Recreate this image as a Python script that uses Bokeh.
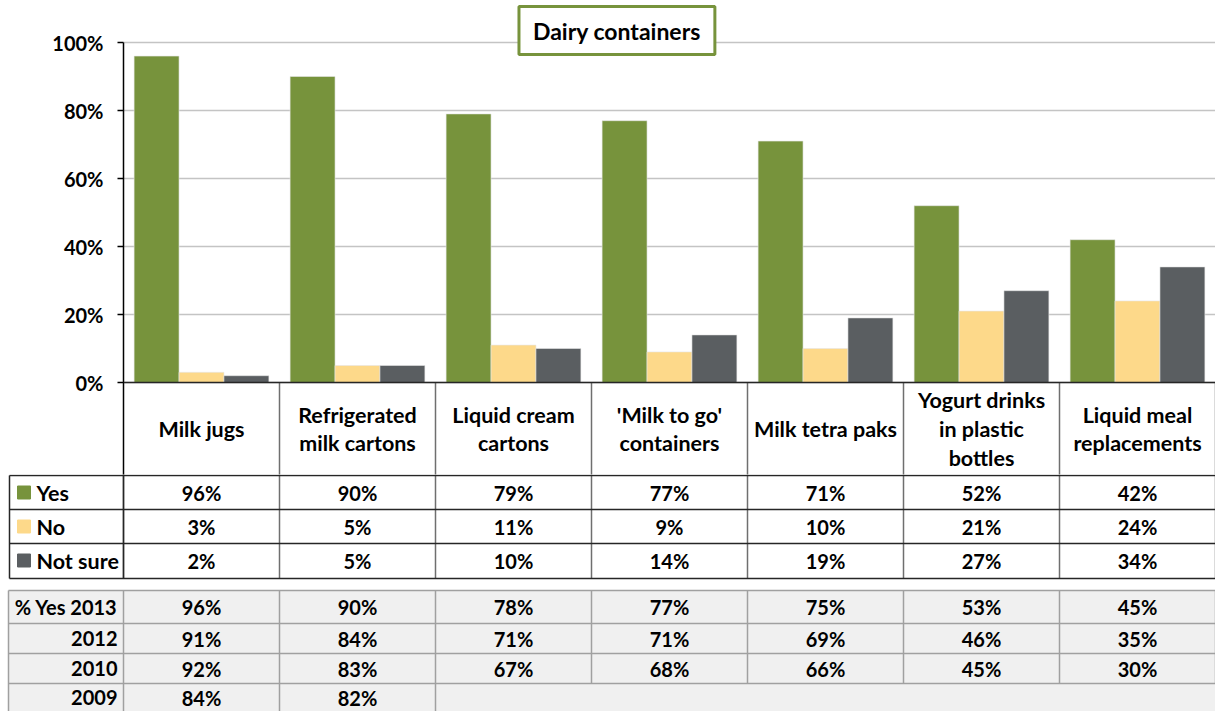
from bokeh.plotting import figure
from bokeh.models import ColumnDataSource, FactorRange, Range1d, FixedTicker, PrintfTickFormatter, Label, Span
from bokeh.transform import dodge
from bokeh.core.properties import value
from bokeh.embed import file_html
from bokeh.resources import INLINE

# ---------------- data ----------------
categories = ["Milk jugs", "Refrigerated milk cartons", "Liquid cream cartons",
              "'Milk to go' containers", "Milk tetra paks",
              "Yogurt drinks in plastic bottles", "Liquid meal replacements"]
category_labels = ["Milk jugs", "Refrigerated\nmilk cartons", "Liquid cream\ncartons",
                   "'Milk to go'\ncontainers", "Milk tetra paks",
                   "Yogurt drinks\nin plastic\nbottles", "Liquid meal\nreplacements"]
series_names = ["Yes", "No", "Not sure"]
yes = [96, 90, 79, 77, 71, 52, 42]
no = [3, 5, 11, 9, 10, 21, 24]
not_sure = [2, 5, 10, 14, 19, 27, 34]

history_labels = ["% Yes 2013", "2012", "2010", "2009"]
yes_2013 = [96, 90, 78, 77, 75, 53, 45]
yes_2012 = [91, 84, 71, 71, 69, 46, 35]
yes_2010 = [92, 83, 67, 68, 66, 45, 30]
yes_2009 = [84, 82, None, None, None, None, None]

y_ticks = [0, 20, 40, 60, 80, 100]
title_text = "Dairy containers"

# ---------------- style ----------------
GREEN = "#77933C"
YELLOW = "#FDD98A"
GRAY = "#5A5E61"
colors = [GREEN, YELLOW, GRAY]
FONT = "Lato"
FS_NUM = "20px"
FS_TXT = "21.5px"
FS_TITLE = "23px"

W = 1215
H_A = 474
H_B = 711 - H_A
L = 123
CW = (W - L) / 7.0
PX_PER_PCT = 3.4
ZERO_PX = 382
HEADER_BOTTOM = 475
N = len(categories)

def py(ref_px):
    """reference pixel row -> percent units of the chart's y scale"""
    return (ZERO_PX - ref_px) / PX_PER_PCT

# ---------------- chart (with the table's header row) ----------------
y_bottom = py(H_A)
p = figure(width=W, height=H_A, x_range=FactorRange(*categories),
           y_range=Range1d(y_bottom, py(0)),
           output_backend="svg", toolbar_location=None, x_axis_location=None,
           min_border=0, min_border_left=L, outline_line_color=None)

src = ColumnDataSource(dict(cat=categories, yes=yes, no=no, ns=not_sure))
bw = 0.288
for off, col, c in zip([-bw, 0, bw], ["yes", "no", "ns"], colors):
    p.vbar(x=dodge("cat", off, range=p.x_range), top=col, width=bw, source=src,
           fill_color=c, line_color="#e6e6e6", line_width=0.6)

# header row cell borders below the 0% line
xs = list(range(1, N + 1))
p.segment(x0=xs, y0=[0] * len(xs), x1=xs, y1=[y_bottom] * len(xs),
          line_color="#6f6f6f", line_width=1.5)
p.add_layout(Span(location=0, dimension="width", line_color="#262626", line_width=1.5))

# header labels
p.text(x=categories, y=[py((ZERO_PX + HEADER_BOTTOM) / 2)] * N,
       text=category_labels, text_align="center", text_baseline="middle",
       line_height=1.1, text_font=value(FONT), text_font_style="bold",
       text_font_size=FS_TXT, text_color="black")

p.xgrid.visible = False
p.ygrid.ticker = FixedTicker(ticks=y_ticks)
p.ygrid.grid_line_color = "#c4c4c4"
p.ygrid.grid_line_width = 1.5
p.yaxis.ticker = FixedTicker(ticks=y_ticks)
p.yaxis.formatter = PrintfTickFormatter(format="%d%%")
p.yaxis.bounds = (y_bottom, 100)
p.yaxis.axis_line_color = "black"
p.yaxis.axis_line_width = 1.5
p.yaxis.major_tick_line_color = "black"
p.yaxis.major_tick_line_width = 1.5
p.yaxis.major_tick_out = 6
p.yaxis.major_tick_in = 0
p.yaxis.minor_tick_line_color = None
p.yaxis.major_label_text_font = FONT
p.yaxis.major_label_text_font_style = "bold"
p.yaxis.major_label_text_font_size = FS_NUM
p.yaxis.major_label_text_color = "black"
p.yaxis.major_label_standoff = 14

p.add_layout(Label(x=3.163, y=py(30), text=title_text, text_align="center",
                   text_baseline="middle", text_font=FONT, text_font_style="bold",
                   text_font_size=FS_TITLE, text_color="black",
                   background_fill_color="white", border_line_color=GREEN,
                   border_line_width=3, padding=(14, 10)))

# ---------------- table body ----------------
def rx(ref_px):
    return (ref_px - L) / CW

TOP = H_A
t = figure(width=W, height=H_B, x_range=Range1d(rx(0), 7),
           y_range=Range1d(TOP + H_B, TOP), output_backend="svg",
           toolbar_location=None, x_axis_location=None, y_axis_location=None,
           min_border=0, outline_line_color=None)
t.grid.visible = False

row_h = 34
rows_top = [HEADER_BOTTOM + i * row_h for i in range(3)]
upper_bottom = HEADER_BOTTOM + 3 * row_h + 1
hist_top = 590
hist_rows = [590, 623, 653, 683, 711]

# second table background
t.quad(left=[rx(8)], right=[7], top=[hist_top], bottom=[TOP + H_B + 10],
       fill_color="#f0f0f0", line_color=None)

# upper table lines
xs = list(range(N + 1))
t.segment(x0=xs, y0=[TOP - 2] * len(xs), x1=xs, y1=[upper_bottom] * len(xs),
          line_color="#6f6f6f", line_width=1.5)
t.segment(x0=[rx(9)], y0=[HEADER_BOTTOM], x1=[rx(9)], y1=[upper_bottom],
          line_color="#262626", line_width=1.5)
hy = [HEADER_BOTTOM, HEADER_BOTTOM + row_h, HEADER_BOTTOM + 2 * row_h, upper_bottom]
t.segment(x0=[rx(9)] * 4, y0=hy, x1=[7] * 4, y1=hy, line_color="#262626", line_width=1.5)
t.segment(x0=[0], y0=[TOP - 2], x1=[0], y1=[upper_bottom], line_color="#262626", line_width=1.5)

# history table lines
t.segment(x0=xs, y0=[hist_top] * len(xs), x1=xs, y1=[hist_rows[3]] * len(xs),
          line_color="#a0a0a0", line_width=1.5)
filled = [i for i, v in enumerate(yes_2009) if v is not None]
xs9 = list(range(len(filled) + 1))
t.segment(x0=xs9, y0=[hist_rows[3]] * len(xs9), x1=xs9, y1=[hist_rows[4]] * len(xs9),
          line_color="#a0a0a0", line_width=1.5)
t.segment(x0=[rx(8)], y0=[hist_top], x1=[rx(8)], y1=[hist_rows[4]],
          line_color="#a0a0a0", line_width=1.5)
t.segment(x0=[rx(8)] * 4, y0=hist_rows[:4], x1=[7] * 4, y1=hist_rows[:4],
          line_color="#a0a0a0", line_width=1.5)

common = dict(text_font=value(FONT), text_font_style="bold",
              text_color="black", text_baseline="middle")

# legend rows
row_c = [r + row_h / 2 for r in rows_top]
t.scatter(x=[rx(23.5)] * 3, y=row_c, marker="square", size=13, color=colors)
t.text(x=[rx(36)] * 3, y=row_c, text=series_names, text_align="left",
       text_font_size=FS_TXT, **common)

for vals, yc in zip([yes, no, not_sure], row_c):
    t.text(x=[i + 0.5 for i in range(N)], y=[yc] * N, text=[f"{v}%" for v in vals],
           text_align="center", text_font_size=FS_NUM, **common)

hist_c = [(hist_rows[i] + hist_rows[i + 1]) / 2 for i in range(4)]
t.text(x=[rx(117)] * 4, y=hist_c, text=history_labels, text_align="right",
       text_font_size=FS_NUM, **common)
for vals, yc in zip([yes_2013, yes_2012, yes_2010, yes_2009], hist_c):
    idx = [i for i, v in enumerate(vals) if v is not None]
    t.text(x=[i + 0.5 for i in idx], y=[yc] * len(idx),
           text=[f"{vals[i]}%" for i in idx], text_align="center",
           text_font_size=FS_NUM, **common)

open("out.html", "w").write(file_html([p, t], INLINE))
